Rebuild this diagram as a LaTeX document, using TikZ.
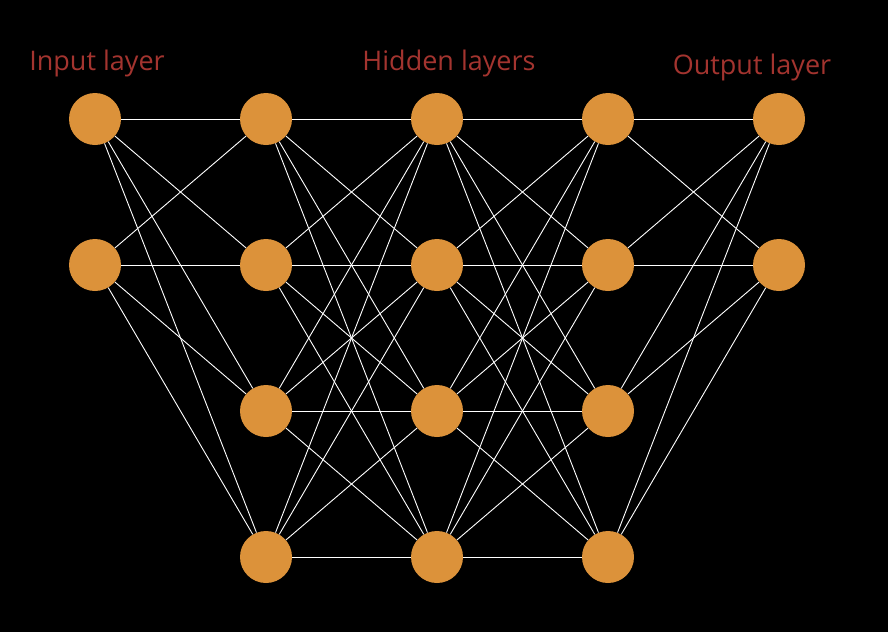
\documentclass[tikz,border=0pt]{standalone}
\usepackage{fontspec}
\setsansfont{Open Sans}
\definecolor{neuronorange}{RGB}{220,146,58}
\definecolor{labelred}{RGB}{163,52,47}
\begin{document}
\begin{tikzpicture}[x=1pt,y=1pt,
            neuron/.style={circle,fill=neuronorange,minimum size=52pt,inner sep=0pt},
            synapse/.style={draw=white,line width=0.9pt},
            layer label/.style={font=\sffamily\fontsize{27}{31}\selectfont,text=labelred,anchor=base}]

        \fill[black] (0,0) rectangle (888,-632);
        \useasboundingbox (0,0) rectangle (888,-632);

        % Define vertices
        \foreach \r in {1,2}
            \node[neuron] (in\r) at (95,{-119-146*(\r-1)}) {};
        \foreach \c/\x in {1/266,2/437,3/608}
            \foreach \r in {1,...,4}
                \node[neuron] (h\c\r) at (\x,{-119-146*(\r-1)}) {};
        \foreach \r in {1,2}
            \node[neuron] (out\r) at (779,{-119-146*(\r-1)}) {};

        % Layer labels
        \node[layer label] (inlabel) at (97,-70) {Input layer};
        \node[layer label] (hidlabel) at (449,-70) {Hidden layers};
        \node[layer label] (outlabel) at (752,-74) {Output layer};

        % Draw edges
        \foreach \a in {1,2}
            \foreach \b in {1,...,4}
                \draw[synapse] (in\a) -- (h1\b);
        \foreach \a in {1,...,4}
            \foreach \b in {1,...,4} {
                \draw[synapse] (h1\a) -- (h2\b);
                \draw[synapse] (h2\a) -- (h3\b);
            }
        \foreach \a in {1,...,4}
            \foreach \b in {1,2}
                \draw[synapse] (h3\a) -- (out\b);

\end{tikzpicture}
\end{document}
